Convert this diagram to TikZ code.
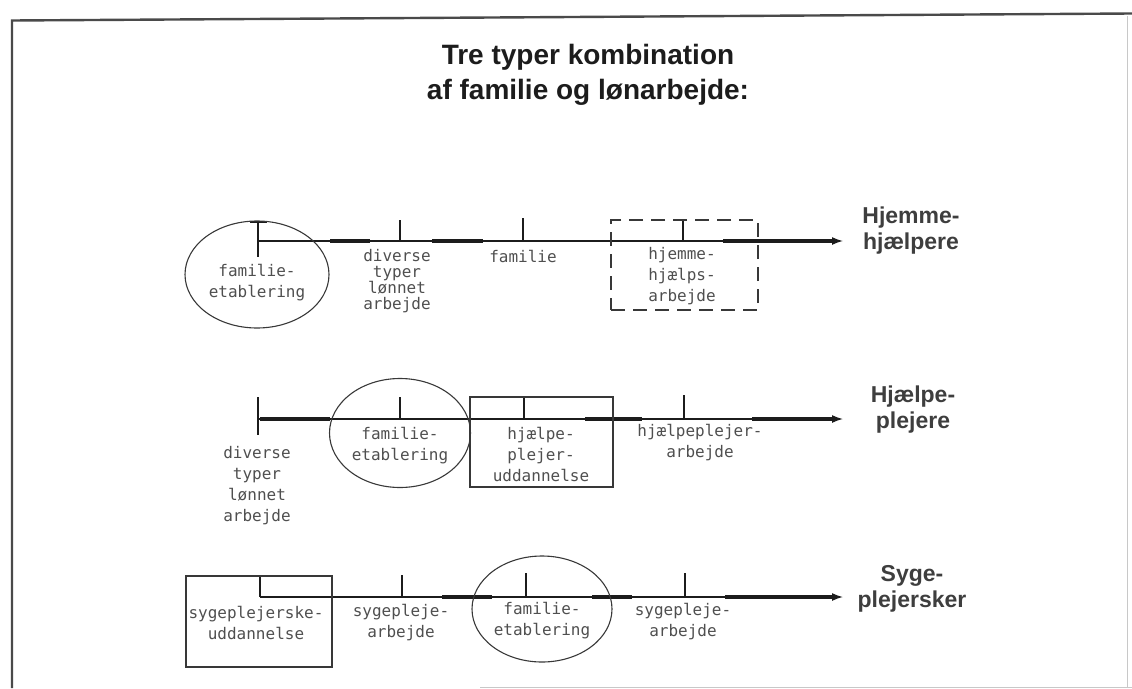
\documentclass[tikz,border=0pt]{standalone}
\usepackage{fontspec}
\setmainfont{Liberation Sans}
\newfontfamily\lettering{DejaVu Sans Mono}
\usetikzlibrary{arrows.meta,shapes.geometric}

\definecolor{ink}{HTML}{1C1C1C}
\definecolor{pencil}{HTML}{4F4F4F}
\definecolor{rim}{HTML}{383838}
\definecolor{frameink}{HTML}{4A4A4A}
\definecolor{faint}{HTML}{C8C8C8}

\tikzset{
  axis/.style={draw=ink, line width=1.5pt, -{Latex[length=11pt,width=8pt]}},
  heavy/.style={draw=ink, line width=3.2pt},
  tick/.style={draw=ink, line width=1.6pt},
  lbl/.style={text=pencil, font=\lettering\fontsize{16}{21}\selectfont, align=center, inner sep=0pt},
  lbltight/.style={lbl, font=\lettering\fontsize{16}{16}\selectfont},
  rowname/.style={text=ink!85, font=\bfseries\fontsize{23}{26}\selectfont, align=center, inner sep=0pt},
  headline/.style={text=ink, font=\bfseries\fontsize{28}{35}\selectfont, align=center, inner sep=0pt},
  phase/.style={draw=rim, line width=1.1pt, ellipse, inner sep=0pt},
  stage/.style={draw=rim, line width=1.1pt, rectangle, inner sep=0pt},
  stagedash/.style={stage, dash pattern=on 14pt off 8pt},
}

\begin{document}
\begin{tikzpicture}[x=1pt, y=-1pt]
\useasboundingbox (0,0) rectangle (1132,688);

% page frame
\draw[line width=2.4pt, draw=frameink] (12,688) -- (12,20.5) -- (1132,13.5);
\draw[line width=1pt, draw=faint] (1127,16) -- (1127,688);
\draw[line width=1pt, draw=faint] (480,687) -- (1132,687);

% title
\node[headline] (title) at (588,75) {Tre typer kombination\\af familie og lønarbejde:};

% ---------------- row 1: hjemmehjælpere ----------------
\coordinate (r1s) at (258,241);
\coordinate (r1e) at (843,241);
\draw[axis] (r1s) -- (r1e);
\foreach \a/\b in {330/370, 432/483, 723/835}
  \draw[heavy] (\a,241) -- (\b,241);
\draw[tick] (258,222) -- (258,257);
\draw[tick] (250,222) -- (267,222);
\draw[tick] (400,220) -- (400,241);
\draw[tick] (523,218) -- (523,241);
\draw[tick] (683,220) -- (683,241);

\node[phase, minimum width=144pt, minimum height=107pt] (e1) at (257,274.5) {};
\node[stagedash, minimum width=147pt, minimum height=90pt] (b1) at (684.5,265) {};

\node[lbl] (l11) at (257,283) {familie-\\etablering};
\node[lbltight] (l12) at (397,281) {diverse\\typer\\lønnet\\arbejde};
\node[lbl] (l13) at (523,256) {familie};
\node[lbl] (l14) at (682,276) {hjemme-\\hjælps-\\arbejde};
\node[rowname] (n1) at (911,231) {Hjemme-\\hjælpere};

% ---------------- row 2: hjælpeplejere ----------------
\coordinate (r2s) at (258,419);
\coordinate (r2e) at (843,419);
\draw[axis] (r2s) -- (r2e);
\foreach \a/\b in {260/330, 585/642, 752/835}
  \draw[heavy] (\a,419) -- (\b,419);
\draw[tick] (258,397) -- (258,435);
\draw[tick] (400,397) -- (400,419);
\draw[tick] (524,398) -- (524,419);
\draw[tick] (684,395) -- (684,419);

\node[phase, minimum width=141pt, minimum height=109pt] (e2) at (400,433) {};
\node[stage, minimum width=143pt, minimum height=90pt] (b2) at (541.5,442) {};

\node[lbl] (l21) at (257,486) {diverse\\typer\\lønnet\\arbejde};
\node[lbl] (l22) at (400,446) {familie-\\etablering};
\node[lbl] (l23) at (541,454) {hjælpe-\\plejer-\\uddannelse};
\node[lbl] (l24) at (700,443) {hjælpeplejer-\\arbejde};
\node[rowname] (n2) at (913,410) {Hjælpe-\\plejere};

% ---------------- row 3: sygeplejersker ----------------
\coordinate (r3s) at (260,597);
\coordinate (r3e) at (843,597);
\draw[axis] (r3s) -- (r3e);
\foreach \a/\b in {442/492, 592/632, 725/835}
  \draw[heavy] (\a,597) -- (\b,597);
\draw[tick] (260,576) -- (260,597);
\draw[tick] (402,575) -- (402,597);
\draw[tick] (526,573) -- (526,597);
\draw[tick] (685,573) -- (685,597);

\node[stage, minimum width=146pt, minimum height=91pt] (b3) at (259,621.5) {};
\node[phase, minimum width=140pt, minimum height=106pt] (e3) at (542,609) {};

\node[lbl] (l31) at (256,623) {sygeplejerske-\\uddannelse};
\node[lbl] (l32) at (401,623) {sygepleje-\\arbejde};
\node[lbl] (l33) at (542,621) {familie-\\etablering};
\node[lbl] (l34) at (683,622) {sygepleje-\\arbejde};
\node[rowname] (n3) at (912,589) {Syge-\\plejersker};
\end{tikzpicture}
\end{document}
